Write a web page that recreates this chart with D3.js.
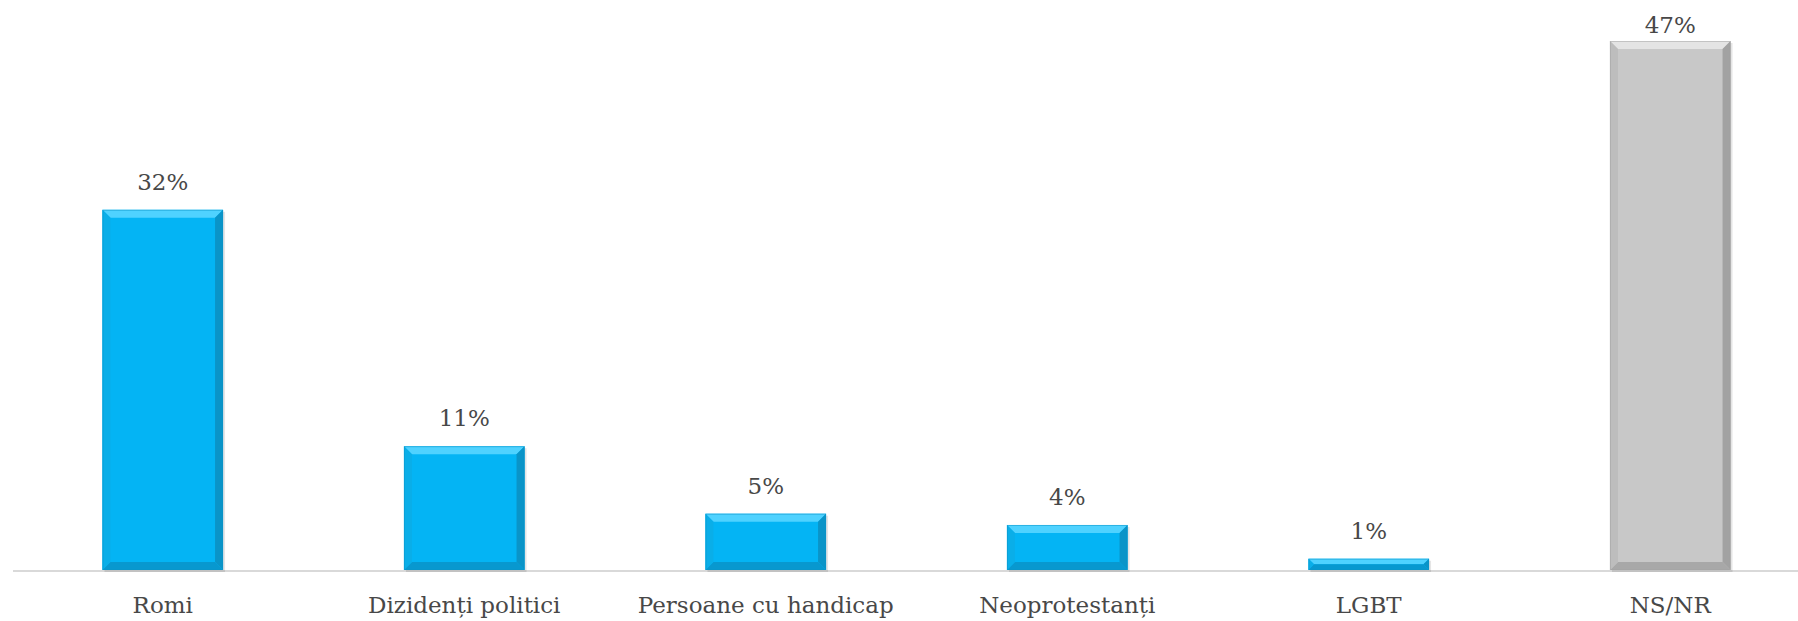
<!DOCTYPE html>
<html>
<head>
<meta charset="utf-8">
<title>Chart</title>
<script src="https://cdn.jsdelivr.net/npm/d3@7/dist/d3.min.js"></script>
<style>
  body { margin: 0; background: #fff; }
  .lbl { font-family: "DejaVu Serif", serif; font-size: 23px; fill: #484848; }
</style>
</head>
<body>
<svg id="graph" width="1798" height="621"></svg>
<script>
// data
var categories = ["Romi", "Diziden\u021Bi politici", "Persoane cu handicap", "Neoprotestan\u021Bi", "LGBT", "NS/NR"]
var values = [32, 11, 5, 4, 1, 47]
var valueLabels = ["32%", "11%", "5%", "4%", "1%", "47%"]
var isNoAnswer = [false, false, false, false, false, true]

var W = 1798, H = 621
var svg = d3.select("#graph")

var x = d3.scaleBand().domain(categories).range([12, 1821]).paddingInner(0.6).paddingOuter(0.3)
var y = d3.scaleLinear().domain([0, 47]).range([570, 41])

// face / top / right / bottom / left shades
var blue = ["#04b4f4", "#4fd2ff", "#0a94c8", "#0898cf", "#0aaee8"]
var grey = ["#c8c8c8", "#e4e4e4", "#a2a2a2", "#a8a8a8", "#bdbdbd"]

// baseline
svg.append("line")
  .attr("x1", 13).attr("x2", W)
  .attr("y1", y(0) + 1).attr("y2", y(0) + 1)
  .attr("stroke", "#d9d9d9").attr("stroke-width", 2)

var rows = categories.map(function(c, i) {
  return {cat: c, v: values[i], lab: valueLabels[i], pal: isNoAnswer[i] ? grey : blue}
})

var g = svg.selectAll("g.bar").data(rows).enter().append("g").attr("class", "bar")

g.each(function(d) {
  var x0 = x(d.cat), x1 = x0 + x.bandwidth()
  var y0 = y(d.v), y1 = y(0)
  var b = Math.min(8, (y1 - y0) / 2)
  var el = d3.select(this)
  var pts = function(a) { return a.map(function(p) { return p.join(",") }).join(" ") }

  // soft shadow
  el.append("rect")
    .attr("x", x0 + 2).attr("y", y0 + 2)
    .attr("width", x.bandwidth()).attr("height", y1 - y0)
    .attr("fill", "#000").attr("opacity", 0.1)

  el.append("rect")
    .attr("x", x0).attr("y", y0)
    .attr("width", x.bandwidth()).attr("height", y1 - y0)
    .attr("fill", d.pal[0])

  el.append("polygon").attr("fill", d.pal[1])
    .attr("points", pts([[x0, y0], [x1, y0], [x1 - b, y0 + b], [x0 + b, y0 + b]]))
  el.append("polygon").attr("fill", d.pal[2])
    .attr("points", pts([[x1, y0], [x1, y1], [x1 - b, y1 - b], [x1 - b, y0 + b]]))
  el.append("polygon").attr("fill", d.pal[3])
    .attr("points", pts([[x0, y1], [x1, y1], [x1 - b, y1 - b], [x0 + b, y1 - b]]))
  el.append("polygon").attr("fill", d.pal[4])
    .attr("points", pts([[x0, y0], [x0, y1], [x0 + b, y1 - b], [x0 + b, y0 + b]]))

  el.append("rect")
    .attr("x", x0 + 0.5).attr("y", y0 + 0.5)
    .attr("width", x.bandwidth() - 1).attr("height", y1 - y0 - 1)
    .attr("fill", "none").attr("stroke", d.pal[2]).attr("stroke-opacity", 0.5)
})

// value labels
g.append("text")
  .attr("class", "lbl")
  .attr("x", function(d) { return x(d.cat) + x.bandwidth() / 2 })
  .attr("y", function(d) { return Math.max(33, y(d.v) - 20) })
  .attr("text-anchor", "middle")
  .text(function(d) { return d.lab })

// category labels
g.append("text")
  .attr("class", "lbl")
  .attr("x", function(d) { return x(d.cat) + x.bandwidth() / 2 })
  .attr("y", 613)
  .attr("text-anchor", "middle")
  .text(function(d) { return d.cat })
</script>
</body>
</html>
